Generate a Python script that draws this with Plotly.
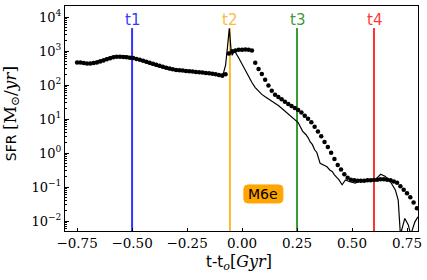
import plotly.graph_objects as go

# ---- data ----
dot_t = [-0.75, -0.735, -0.72, -0.705, -0.69, -0.675, -0.66, -0.645, -0.63, -0.615,
         -0.60, -0.585, -0.57, -0.555, -0.54, -0.525, -0.51, -0.495, -0.48, -0.465,
         -0.45, -0.435, -0.42, -0.405, -0.39, -0.375, -0.36, -0.345, -0.33, -0.315,
         -0.30, -0.285, -0.27, -0.255, -0.24, -0.225, -0.21, -0.195, -0.18, -0.165,
         -0.15, -0.135, -0.12, -0.105, -0.09, -0.075, -0.06, -0.045, -0.03, -0.015,
         0.0, 0.015, 0.03, 0.045, 0.06, 0.075, 0.09, 0.105, 0.12, 0.135,
         0.15, 0.165, 0.18, 0.195, 0.21, 0.225, 0.24, 0.255, 0.27, 0.285,
         0.30, 0.315, 0.33, 0.345, 0.36, 0.375, 0.39, 0.405, 0.42, 0.435,
         0.45, 0.465, 0.48, 0.495, 0.51, 0.525, 0.54, 0.555, 0.57, 0.585,
         0.60, 0.615, 0.63, 0.645, 0.66, 0.675, 0.69, 0.705, 0.72, 0.735,
         0.75, 0.765, 0.78, 0.795]
dot_logsfr = [2.67, 2.67, 2.65, 2.64, 2.64, 2.65, 2.67, 2.70, 2.73, 2.76,
              2.79, 2.82, 2.84, 2.84, 2.83, 2.82, 2.81, 2.80, 2.77, 2.75,
              2.72, 2.69, 2.66, 2.63, 2.60, 2.57, 2.54, 2.51, 2.49, 2.47,
              2.45, 2.44, 2.43, 2.42, 2.41, 2.40, 2.39, 2.38, 2.37, 2.36,
              2.35, 2.34, 2.32, 2.30, 2.28, 2.32, 2.93, 3.00, 3.02, 3.04,
              3.04, 3.05, 3.04, 3.02, 2.66, 2.48, 2.33, 2.16, 1.99, 1.84,
              1.72, 1.65, 1.59, 1.51, 1.45, 1.39, 1.33, 1.27, 1.20, 1.10,
              1.01, 0.91, 0.78, 0.64, 0.50, 0.33, 0.18, 0.01, -0.17, -0.35,
              -0.48, -0.62, -0.72, -0.78, -0.80, -0.81, -0.81, -0.81, -0.80, -0.80,
              -0.79, -0.78, -0.77, -0.77, -0.78, -0.80, -0.83, -0.87, -0.97, -1.08,
              -1.18, -1.30, -1.45, -1.62]

line_t = [-0.75, -0.72, -0.69, -0.66, -0.63, -0.60, -0.57, -0.54, -0.51, -0.48,
          -0.45, -0.42, -0.39, -0.36, -0.33, -0.30, -0.27, -0.24, -0.21, -0.18,
          -0.15, -0.12, -0.10, -0.085, -0.075, -0.065, -0.058, -0.050, -0.045, -0.038,
          -0.03, -0.015, 0.0, 0.015, 0.03, 0.045, 0.06, 0.075, 0.09, 0.105,
          0.12, 0.135, 0.15, 0.165, 0.18, 0.195, 0.21, 0.225, 0.24, 0.255,
          0.265, 0.275, 0.29, 0.30, 0.31, 0.32, 0.33, 0.34, 0.355, 0.37,
          0.386, 0.40, 0.41, 0.42, 0.43, 0.44, 0.455, 0.47, 0.49, 0.515,
          0.53, 0.55, 0.57, 0.59, 0.606, 0.63, 0.65, 0.67, 0.697, 0.71,
          0.72, 0.74, 0.756, 0.767, 0.786, 0.80]
line_logsfr = [2.66, 2.64, 2.65, 2.70, 2.77, 2.83, 2.87, 2.87, 2.84, 2.77,
               2.69, 2.62, 2.56, 2.50, 2.46, 2.43, 2.41, 2.40, 2.39, 2.37,
               2.35, 2.32, 2.30, 2.35, 2.58, 3.20, 3.67, 3.05, 2.88, 2.98,
               2.96, 2.80, 2.62, 2.42, 2.25, 2.08, 1.93, 1.82, 1.73, 1.66,
               1.60, 1.53, 1.46, 1.40, 1.32, 1.24, 1.14, 1.08, 1.00, 0.90,
               0.78, 0.65, 0.55, 0.46, 0.33, 0.25, 0.10, 0.02, -0.30, -0.35,
               -0.40, -0.50, -0.54, -0.64, -0.70, -0.78, -0.93, -0.79, -0.84, -0.88,
               -0.83, -0.81, -0.80, -0.79, -0.79, -0.62, -0.68, -0.79, -1.08, -1.38,
               -2.40, -1.92, -2.11, -2.40, -2.02, -1.87]

event_names = ["t1", "t2", "t3", "t4"]
event_times = [-0.50, -0.055, 0.25, 0.60]
event_colors = ["rgba(0,0,255,0.8)", "rgba(255,165,0,0.8)", "rgba(0,128,0,0.8)", "rgba(255,0,0,0.8)"]
event_top = 4800
event_bottom = 1e-3

xtick_vals = [-0.75, -0.50, -0.25, 0.00, 0.25, 0.50, 0.75]
xtick_text = ["\u22120.75", "\u22120.50", "\u22120.25", "0.00", "0.25", "0.50", "0.75"]
ytick_vals = [1e-2, 1e-1, 1e0, 1e1, 1e2, 1e3, 1e4]
ytick_text = ["10<sup>\u22122</sup>", "10<sup>\u22121</sup>", "10<sup>0</sup>", "10<sup>1</sup>",
              "10<sup>2</sup>", "10<sup>3</sup>", "10<sup>4</sup>"]
minor_vals = [m * 10 ** e for e in range(-3, 5) for m in range(2, 10)]

label_text = "M6e"
label_t = 0.097
label_logsfr = -1.20

SANS = "DejaVu Sans"
SERIF = "DejaVu Serif"

# layout geometry (pixels)
W, H = 427, 280
ML, MR, MT, MB = 64.5, 9, 6, 49.3
PW, PH = W - ML - MR, H - MT - MB

fig = go.Figure()

for name, t, c in zip(event_names, event_times, event_colors):
    fig.add_trace(go.Scatter(x=[t, t], y=[event_bottom, event_top], mode="lines",
                             line=dict(color=c, width=2), showlegend=False, hoverinfo="skip"))
    fig.add_annotation(x=t, y=3.68, xref="x", yref="y", text=name, showarrow=False,
                       yanchor="bottom", yshift=-3, font=dict(family=SANS, size=15, color=c))

fig.add_trace(go.Scatter(x=line_t, y=[10 ** v for v in line_logsfr], mode="lines",
                         line=dict(color="black", width=1.2), showlegend=False))
fig.add_trace(go.Scatter(x=dot_t, y=[10 ** v for v in dot_logsfr], mode="markers",
                         marker=dict(color="black", size=4.5, line=dict(width=0)), showlegend=False))

# rounded label box
w, h, r = 39, 18, 4
path = (f"M {-w/2+r},{-h/2} L {w/2-r},{-h/2} Q {w/2},{-h/2} {w/2},{-h/2+r} "
        f"L {w/2},{h/2-r} Q {w/2},{h/2} {w/2-r},{h/2} L {-w/2+r},{h/2} "
        f"Q {-w/2},{h/2} {-w/2},{h/2-r} L {-w/2},{-h/2+r} Q {-w/2},{-h/2} {-w/2+r},{-h/2} Z")
fig.add_shape(type="path", xref="x", yref="y", xsizemode="pixel", ysizemode="pixel",
              xanchor=label_t, yanchor=10 ** label_logsfr, path=path,
              fillcolor="#ffa500", line=dict(color="#ffa500", width=1), layer="above")
fig.add_annotation(x=label_t, y=label_logsfr, xref="x", yref="y", text=label_text, showarrow=False,
                   font=dict(family=SANS, size=14, color="black"))

# axis titles as annotations
fig.add_annotation(
    xref="paper", yref="paper", x=(238.5 - ML) / PW, y=1 - (262 - MT) / PH,
    xanchor="center", yanchor="middle", showarrow=False,
    text=f'<span style="font-family:{SANS};font-size:15px">t-t</span><sub><i>o</i></sub>[<i>Gyr</i>]',
    font=dict(family=SERIF, size=16, color="black"))
fig.add_annotation(
    xref="paper", yref="paper", x=(10.5 - ML) / PW, y=1 - (114 - MT) / PH,
    xanchor="center", yanchor="middle", showarrow=False, textangle=-90,
    text=f'<span style="font-family:{SANS};font-size:14px">SFR </span>[M<sub>\u2299</sub>/<i>yr</i>]',
    font=dict(family=SERIF, size=17, color="black"))

fig.update_layout(
    width=W, height=H,
    margin=dict(l=ML, r=MR, t=MT, b=MB, autoexpand=False),
    plot_bgcolor="white", paper_bgcolor="white",
    font=dict(family=SERIF, size=13, color="black"),
)
fig.update_xaxes(range=[-0.805, 0.80], tickvals=xtick_vals, ticktext=xtick_text,
                 ticks="inside", ticklen=3.5, tickwidth=1, tickcolor="black",
                 showline=True, linecolor="black", linewidth=1, mirror=True,
                 showgrid=False, zeroline=False, automargin=False,
                 tickfont=dict(family=SERIF, size=13.5))
fig.update_yaxes(type="log", range=[-2.29, 4.33], tickvals=ytick_vals, ticktext=ytick_text,
                 ticks="inside", ticklen=3.5, tickwidth=1, tickcolor="black",
                 minor=dict(tickvals=minor_vals, ticks="inside", ticklen=2, tickcolor="black", tickwidth=0.8),
                 showline=True, linecolor="black", linewidth=1, mirror=True,
                 showgrid=False, zeroline=False, automargin=False,
                 tickfont=dict(family=SERIF, size=13))

fig.write_html("out.html", post_script="document.body.style.margin='0px';",
               config={"displayModeBar": False})
